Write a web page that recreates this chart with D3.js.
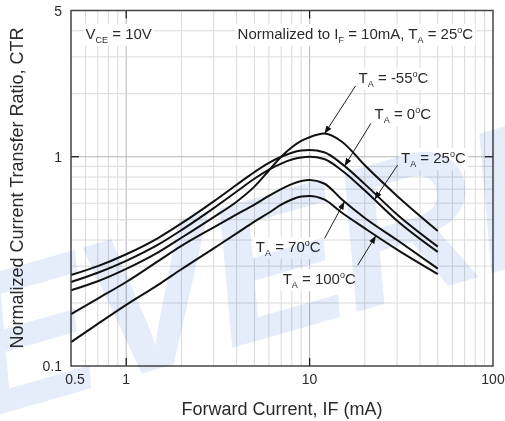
<!DOCTYPE html>
<html lang="en">

<head>
    <meta charset="UTF-8">
    <title>Normalized CTR vs Forward Current</title>
    <style>
        body {
            margin: 0;
            background: #fff;
        }

        text {
            font-family: "Liberation Sans", Arial, sans-serif;
            fill: #2a2a2a;
        }
    </style>
</head>

<body>
    <svg id="chart"></svg>

    <script src="https://cdn.jsdelivr.net/npm/d3@7/dist/d3.min.js"></script>
    <script>
        // Values (IF in mA, CTR normalized)
        var ifValues = [0.5, 0.7, 1, 1.5, 2, 3, 4, 5, 6, 7, 8, 9, 10, 12, 15, 20, 30, 50];
        var ctrM55 = [0.230, 0.254, 0.291, 0.350, 0.410, 0.515, 0.610, 0.720, 0.860, 1.000, 1.110, 1.190, 1.240, 1.290, 1.180, 0.910, 0.650, 0.442];
        var ctr0 = [0.272, 0.300, 0.342, 0.410, 0.480, 0.612, 0.735, 0.845, 0.935, 1.000, 1.045, 1.070, 1.077, 1.050, 0.925, 0.740, 0.530, 0.372];
        var ctr25 = [0.252, 0.279, 0.318, 0.381, 0.446, 0.568, 0.682, 0.785, 0.868, 0.928, 0.970, 0.993, 1.000, 0.975, 0.860, 0.690, 0.495, 0.351];
        var ctr70 = [0.177, 0.210, 0.252, 0.318, 0.375, 0.460, 0.530, 0.590, 0.650, 0.700, 0.740, 0.765, 0.774, 0.745, 0.625, 0.510, 0.400, 0.292];
        var ctr100 = [0.130, 0.159, 0.196, 0.245, 0.290, 0.365, 0.430, 0.490, 0.540, 0.590, 0.625, 0.645, 0.650, 0.625, 0.540, 0.455, 0.360, 0.275];

        var temps = ["-55", "0", "25", "70", "100"];
        var xTickValues = [0.5, 1, 10, 100];
        var yTickValues = [0.1, 1, 5];

        // Where each temperature label sits and where its arrow points (data space)
        var noteText = [[18.5, 2.245], [22.6, 1.51], [31.5, 0.933], [5.09, 0.35], [7.13, 0.246]];
        var noteFrom = [[17.8, 2.18], [21.6, 1.445], [30.2, 0.913], [12.06, 0.407], [18.3, 0.303]];
        var noteTo = [12.06, 15.5, 22.6, 15.5, 23.0];

        var width = 505,
            height = 421;
        var margin = { top: 10.5, right: 12, bottom: 55, left: 71 };

        var svg = d3.select("#chart")
            .attr("width", width)
            .attr("height", height);

        var x = d3.scaleLog()
            .domain([0.5, 100])
            .range([margin.left, width - margin.right]);

        var y = d3.scaleLog()
            .domain([0.1, 5])
            .range([height - margin.bottom, margin.top]);

        var series = [ctrM55, ctr0, ctr25, ctr70, ctr100].map(function (vals, i) {
            return { temp: temps[i], points: ifValues.map(function (v, j) { return [v, vals[j]]; }) };
        });

        // arrow head
        svg.append("defs").append("marker")
            .attr("id", "head")
            .attr("markerUnits", "userSpaceOnUse")
            .attr("markerWidth", 8)
            .attr("markerHeight", 6)
            .attr("refX", 8)
            .attr("refY", 3)
            .attr("orient", "auto")
            .append("path")
            .attr("d", "M0,0 L8,3 L0,6 Z")
            .attr("fill", "#111");

        // grid
        var grid = svg.append("g");
        var xGrid = x.ticks().filter(function (t) { return t > 0.5 && t < 100; });
        var yGrid = y.ticks().filter(function (t) { return t > 0.1 && t < 5; });
        var isDecade = function (t) { return Math.abs(Math.log10(t) - Math.round(Math.log10(t))) < 1e-9; };

        grid.selectAll(".vx").data(xGrid).enter().append("line")
            .attr("x1", d => x(d)).attr("x2", d => x(d))
            .attr("y1", y(5)).attr("y2", y(0.1))
            .attr("stroke", d => isDecade(d) ? "#b5b5b5" : "#d9d9d9")
            .attr("stroke-width", 1);

        grid.selectAll(".hy").data(yGrid).enter().append("line")
            .attr("y1", d => y(d)).attr("y2", d => y(d))
            .attr("x1", x(0.5)).attr("x2", x(100))
            .attr("stroke", d => isDecade(d) ? "#b5b5b5" : "#d9d9d9")
            .attr("stroke-width", 1);

        // decade ticks on all four sides
        var tickLen = 8;
        [1, 10].forEach(function (t) {
            grid.append("line").attr("x1", x(t)).attr("x2", x(t))
                .attr("y1", y(0.1)).attr("y2", y(0.1) - tickLen).attr("stroke", "#111").attr("stroke-width", 1.2);
            grid.append("line").attr("x1", x(t)).attr("x2", x(t))
                .attr("y1", y(5)).attr("y2", y(5) + tickLen).attr("stroke", "#111").attr("stroke-width", 1.2);
        });
        grid.append("line").attr("x1", x(0.5)).attr("x2", x(0.5) + tickLen)
            .attr("y1", y(1)).attr("y2", y(1)).attr("stroke", "#111").attr("stroke-width", 1.2);
        grid.append("line").attr("x1", x(100)).attr("x2", x(100) - tickLen)
            .attr("y1", y(1)).attr("y2", y(1)).attr("stroke", "#111").attr("stroke-width", 1.2);

        // tspan helper for "T_A = xx°C"
        function taLabel(sel, temp) {
            sel.append("tspan").text("T");
            sel.append("tspan").attr("font-size", "9px").attr("dy", 4).text("A");
            sel.append("tspan").attr("dy", -4).text(" = " + temp);
            sel.append("tspan").attr("font-size", "9px").attr("dy", -6).text("o");
            sel.append("tspan").attr("dy", 6).text("C");
        }

        var notes = svg.append("g").attr("font-size", "15px");

        function boxed(textSel) {
            var b = textSel.node().getBBox();
            notes.insert("rect", function () { return textSel.node(); })
                .attr("x", b.x - 2).attr("y", b.y - 1)
                .attr("width", b.width + 4).attr("height", b.height + 2)
                .attr("fill", "#fff");
        }

        // header notes
        var vce = notes.append("text").attr("x", x(0.6)).attr("y", y(3.65));
        vce.append("tspan").text("V");
        vce.append("tspan").attr("font-size", "9px").attr("dy", 4).text("CE");
        vce.append("tspan").attr("dy", -4).text(" = 10V");
        boxed(vce);

        var norm = notes.append("text").attr("x", x(4.05)).attr("y", y(3.65));
        norm.append("tspan").text("Normalized to I");
        norm.append("tspan").attr("font-size", "9px").attr("dy", 4).text("F");
        norm.append("tspan").attr("dy", -4).text(" = 10mA, T");
        norm.append("tspan").attr("font-size", "9px").attr("dy", 4).text("A");
        norm.append("tspan").attr("dy", -4).text(" = 25");
        norm.append("tspan").attr("font-size", "9px").attr("dy", -6).text("o");
        norm.append("tspan").attr("dy", 6).text("C");
        boxed(norm);

        // curves
        var line = d3.line()
            .x(d => x(d[0]))
            .y(d => y(d[1]))
            .curve(d3.curveMonotoneX);

        svg.append("g").selectAll("path")
            .data(series)
            .enter()
            .append("path")
            .attr("d", d => line(d.points))
            .attr("fill", "none")
            .attr("stroke", "#111")
            .attr("stroke-width", 2);

        // value on a curve at IF (log-log interpolation)
        function ctrAt(points, v) {
            for (var i = 1; i < points.length; i++) {
                if (v <= points[i][0]) {
                    var a = points[i - 1], b = points[i];
                    var f = (Math.log(v) - Math.log(a[0])) / (Math.log(b[0]) - Math.log(a[0]));
                    return Math.exp(Math.log(a[1]) + f * (Math.log(b[1]) - Math.log(a[1])));
                }
            }
            return points[points.length - 1][1];
        }

        // temperature labels with arrows
        series.forEach(function (s, i) {
            var t = notes.append("text")
                .attr("x", x(noteText[i][0]))
                .attr("y", y(noteText[i][1]));
            taLabel(t, s.temp);
            boxed(t);

            notes.append("line")
                .attr("x1", x(noteFrom[i][0])).attr("y1", y(noteFrom[i][1]))
                .attr("x2", x(noteTo[i])).attr("y2", y(ctrAt(s.points, noteTo[i])))
                .attr("stroke", "#222")
                .attr("stroke-width", 1)
                .attr("marker-end", "url(#head)");
        });

        // frame
        svg.append("rect")
            .attr("x", x(0.5)).attr("y", y(5))
            .attr("width", x(100) - x(0.5))
            .attr("height", y(0.1) - y(5))
            .attr("fill", "none")
            .attr("stroke", "#444")
            .attr("stroke-width", 1.5);

        // tick labels
        var axisText = svg.append("g").attr("font-size", "14px");
        axisText.selectAll(".xl").data(xTickValues).enter().append("text")
            .attr("x", d => x(d) + (d === 0.5 ? 4 : 0))
            .attr("y", y(0.1) + 18)
            .attr("text-anchor", "middle")
            .text(d => d);

        axisText.selectAll(".yl").data(yTickValues).enter().append("text")
            .attr("x", x(0.5) - 9)
            .attr("y", d => y(d) + 5)
            .attr("text-anchor", "end")
            .text(d => d);

        // axis titles
        svg.append("text")
            .attr("x", 282)
            .attr("y", 415)
            .attr("text-anchor", "middle")
            .attr("font-size", "18px")
            .text("Forward Current, IF (mA)");

        svg.append("text")
            .attr("transform", "translate(23,188) rotate(-90)")
            .attr("text-anchor", "middle")
            .attr("font-size", "18px")
            .text("Normalized Current Transfer Ratio, CTR");

        // pale watermark laid over everything
        svg.append("text")
            .attr("transform", "translate(-20,420) rotate(-16)")
            .attr("font-size", "200px")
            .attr("font-weight", "bold")
            .attr("font-style", "italic")
            .attr("letter-spacing", "-4")
            .style("fill", "#e4edf9")
            .style("mix-blend-mode", "multiply")
            .style("pointer-events", "none")
            .text("EVERLIGHT");
    </script>
</body>

</html>
